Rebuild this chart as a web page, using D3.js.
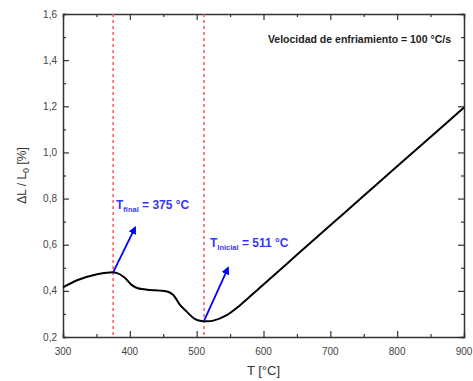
<!DOCTYPE html>
<html>
<head>
<meta charset="utf-8">
<script src="https://d3js.org/d3.v7.min.js"></script>
<style>
  body { margin: 0; background: #fff; }
  text { font-family: "Liberation Sans", Arial, sans-serif; }
</style>
</head>
<body>
<div id="viz"></div>
<script>
const margin = {top: 14, right: 9, bottom: 44, left: 63};
const width = 473;
const height = 381;

// curve
const temps = [300, 322, 351, 370, 380, 392, 403, 412, 431, 445, 458, 465, 470, 475, 485, 497, 507, 515, 525, 545, 565, 600, 650, 700, 750, 800, 850, 900];
const dl    = [0.415, 0.447, 0.472, 0.480, 0.478, 0.458, 0.425, 0.411, 0.404, 0.401, 0.395, 0.382, 0.362, 0.339, 0.310, 0.279, 0.269, 0.268, 0.271, 0.295, 0.338, 0.428, 0.556, 0.684, 0.812, 0.940, 1.067, 1.195];

const transitions = [375, 511];
const arrowFrom = [[375, 0.480], [511, 0.270]];
const arrowTo = [[408, 0.675], [547, 0.500]];
const labelSub = ['final', 'Inicial'];
const labelVal = ['= 375 °C', '= 511 °C'];
const labelPos = [[116, 209], [210, 247]];

const xTicks = [300, 400, 500, 600, 700, 800, 900];
const yTicks = [0.2, 0.4, 0.6, 0.8, 1.0, 1.2, 1.4, 1.6];

const x = d3.scaleLinear().domain([300, 900]).range([margin.left, width - margin.right]);
const y = d3.scaleLinear().domain([0.2, 1.6]).range([height - margin.bottom, margin.top]);

const svg = d3.select('#viz').append('svg')
  .attr('width', width)
  .attr('height', height);

svg.append('defs').append('marker')
  .attr('id', 'head')
  .attr('viewBox', '0 0 10 10')
  .attr('refX', 8).attr('refY', 5)
  .attr('markerWidth', 4.5).attr('markerHeight', 4.5)
  .attr('markerUnits', 'strokeWidth')
  .attr('orient', 'auto')
  .append('path')
    .attr('d', 'M0,0 L10,5 L0,10 z')
    .attr('fill', '#0000ff');

const axisColor = '#333';
const fmt = d => d3.format('.1f')(d).replace('.', ',');
const xMinor = d3.range(300, 901, 50);
const yMinor = d3.range(2, 17).map(d => d / 10);

// axes, ticks inward on all four sides
const axBottom = svg.append('g')
  .attr('transform', `translate(0,${height - margin.bottom})`)
  .call(d3.axisBottom(x).tickValues(xMinor).tickSize(-3).tickFormat(''));
const axTop = svg.append('g')
  .attr('transform', `translate(0,${margin.top})`)
  .call(d3.axisTop(x).tickValues(xMinor).tickSize(-3).tickFormat(''));
const axLeft = svg.append('g')
  .attr('transform', `translate(${margin.left},0)`)
  .call(d3.axisLeft(y).tickValues(yMinor).tickSize(-3).tickFormat(''));
const axRight = svg.append('g')
  .attr('transform', `translate(${width - margin.right},0)`)
  .call(d3.axisRight(y).tickValues(yMinor).tickSize(-3).tickFormat(''));

// longer major ticks
axBottom.selectAll('.tick').filter(d => d % 100 === 0).select('line').attr('y2', -6);
axTop.selectAll('.tick').filter(d => d % 100 === 0).select('line').attr('y2', 6);
axLeft.selectAll('.tick').filter(d => Math.round(d * 10) % 2 === 0).select('line').attr('x2', 6);
axRight.selectAll('.tick').filter(d => Math.round(d * 10) % 2 === 0).select('line').attr('x2', -6);

[axBottom, axTop, axLeft, axRight].forEach(g => {
  g.select('.domain').attr('stroke', axisColor).attr('stroke-width', 1.5);
  g.selectAll('.tick line').attr('stroke', axisColor).attr('stroke-width', 1.2);
});

svg.selectAll('.xlab')
  .data(xTicks)
  .join('text')
    .attr('x', d => x(d))
    .attr('y', height - margin.bottom + 18)
    .attr('text-anchor', 'middle')
    .attr('font-size', 10)
    .attr('fill', '#444')
    .text(d => d);

svg.selectAll('.ylab')
  .data(yTicks)
  .join('text')
    .attr('x', margin.left - 6)
    .attr('y', d => y(d) + 3.5)
    .attr('text-anchor', 'end')
    .attr('font-size', 10)
    .attr('fill', '#444')
    .text(d => fmt(d));

svg.append('text')
  .attr('x', (margin.left + width - margin.right) / 2)
  .attr('y', 375)
  .attr('text-anchor', 'middle')
  .attr('font-size', 13)
  .attr('fill', '#333')
  .text('T [°C]');

const yl = svg.append('text')
  .attr('transform', `translate(26,${(margin.top + height - margin.bottom) / 2}) rotate(-90)`)
  .attr('text-anchor', 'middle')
  .attr('font-size', 12)
  .attr('fill', '#333');
yl.append('tspan').text('ΔL / L');
yl.append('tspan').attr('font-size', 9).attr('dy', 3).text('0');
yl.append('tspan').attr('dy', -3).text(' [%]');

// transition lines
svg.selectAll('.vline')
  .data(transitions)
  .join('line')
    .attr('x1', d => x(d)).attr('x2', d => x(d))
    .attr('y1', margin.top).attr('y2', height - margin.bottom)
    .attr('stroke', '#ff5a5a')
    .attr('stroke-width', 1.5)
    .attr('stroke-dasharray', '3,3');

// curve
const line = d3.line()
  .x((d, i) => x(temps[i]))
  .y(d => y(d))
  .curve(d3.curveCatmullRom);

svg.append('path')
  .attr('d', line(dl))
  .attr('fill', 'none')
  .attr('stroke', '#000')
  .attr('stroke-width', 2);

// arrows
svg.selectAll('.arrow')
  .data(arrowFrom)
  .join('line')
    .attr('x1', d => x(d[0])).attr('y1', d => y(d[1]))
    .attr('x2', (d, i) => x(arrowTo[i][0])).attr('y2', (d, i) => y(arrowTo[i][1]))
    .attr('stroke', '#0000ff')
    .attr('stroke-width', 1.8)
    .attr('marker-end', 'url(#head)');

labelPos.forEach((p, i) => {
  const t = svg.append('text')
    .attr('x', p[0]).attr('y', p[1])
    .attr('font-size', 12)
    .attr('font-weight', 'bold')
    .attr('fill', '#3636ff');
  t.append('tspan').text('T');
  t.append('tspan').attr('font-size', 7.5).attr('dy', 3).text(labelSub[i]);
  t.append('tspan').attr('dy', -3).text(' ' + labelVal[i]);
});

svg.append('text')
  .attr('x', 451)
  .attr('y', 43)
  .attr('text-anchor', 'end')
  .attr('font-size', 10.5)
  .attr('font-weight', 'bold')
  .attr('fill', '#222')
  .text('Velocidad de enfriamiento = 100 °C/s');
</script>
</body>
</html>
